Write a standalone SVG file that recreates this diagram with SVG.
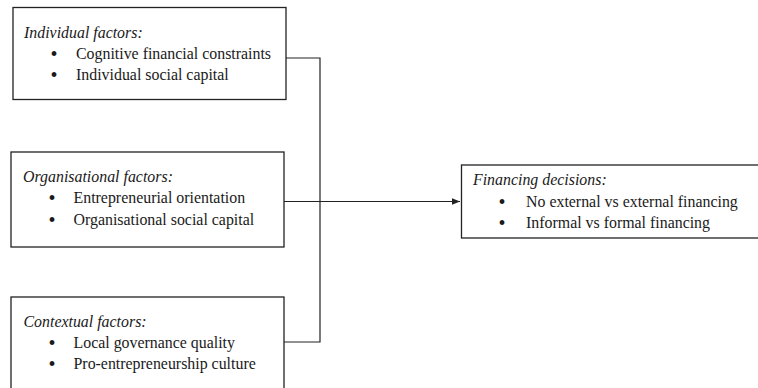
<svg xmlns="http://www.w3.org/2000/svg" width="758" height="388" viewBox="0 0 758 388">
<style>
.box{fill:#fff;stroke:#222;stroke-width:1.3}
text{font-family:'Liberation Serif',serif;font-size:15.9px;fill:#1a1a1a}
.h{font-style:italic}
.b{text-anchor:middle;font-size:20px}
.c{fill:none;stroke:#222;stroke-width:1.2}
</style>
<defs>
<marker id="arr" viewBox="0 0 10 10" refX="10" refY="5" markerWidth="8" markerHeight="8" markerUnits="userSpaceOnUse" orient="auto">
<path d="M0,1 L10,5 L0,9 Z" fill="#222"/>
</marker>
</defs>
<rect width="758" height="388" fill="#fff"/>
<g id="connectors">
<path class="c" d="M286,58 H320 V342 H284"/>
<path class="c" d="M284,201.5 H460" marker-end="url(#arr)"/>
</g>
<g id="individual">
<rect class="box" x="13" y="7.5" width="273" height="92"/>
<text class="h" x="24" y="38">Individual factors:</text>
<text class="b" x="54" y="60.5">•</text><text x="76" y="58.5">Cognitive financial constraints</text>
<text class="b" x="54" y="81.5">•</text><text x="76" y="79.5">Individual social capital</text>
</g>
<g id="organisational">
<rect class="box" x="11" y="152" width="273" height="95"/>
<text class="h" x="23" y="182">Organisational factors:</text>
<text class="b" x="52" y="205">•</text><text x="73.5" y="203">Entrepreneurial orientation</text>
<text class="b" x="52" y="226.5">•</text><text x="73.5" y="224.5">Organisational social capital</text>
</g>
<g id="contextual">
<rect class="box" x="11" y="297" width="273" height="100"/>
<text class="h" x="23.5" y="326.5">Contextual factors:</text>
<text class="b" x="52" y="349.5">•</text><text x="73.5" y="347.5">Local governance quality</text>
<text class="b" x="52" y="370.5">•</text><text x="73.5" y="368.5">Pro-entrepreneurship culture</text>
</g>
<g id="financing">
<rect class="box" x="461.5" y="165" width="310" height="73"/>
<text class="h" x="473" y="185">Financing decisions:</text>
<text class="b" x="502" y="209">•</text><text x="526" y="207">No external vs external financing</text>
<text class="b" x="502" y="230">•</text><text x="526" y="228">Informal vs formal financing</text>
</g>
</svg>
